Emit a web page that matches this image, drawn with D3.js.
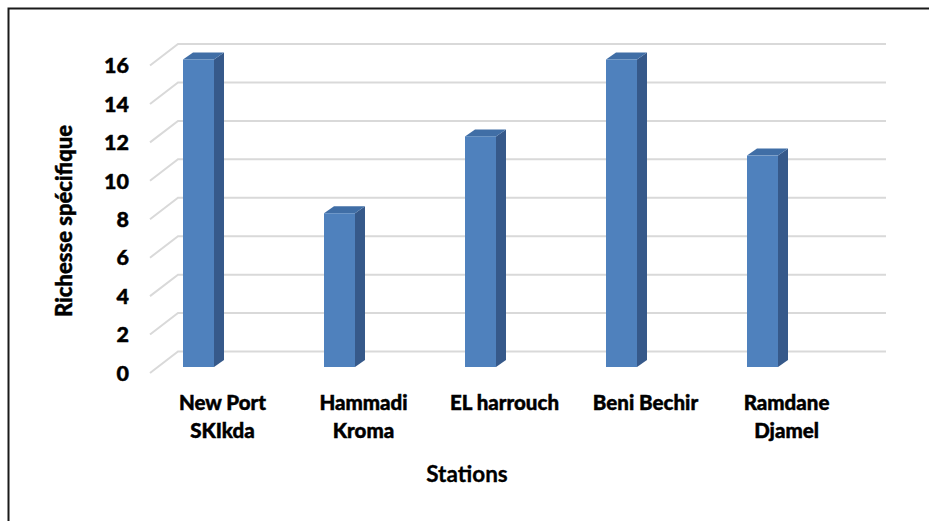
<!DOCTYPE html>
<html>
<head>
<meta charset="utf-8">
<script src="https://cdn.jsdelivr.net/npm/d3@7"></script>
<style>
  html, body { margin: 0; padding: 0; background: #fff; }
  svg { display: block; }
  text { font-family: Lato, "Open Sans", sans-serif; font-weight: 900; fill: #000; stroke: #000; stroke-width: 0.45px; }
</style>
</head>
<body>
<svg id="chart" width="929" height="521"></svg>
<script>
// ---- data ----
const categories = [["New Port", "SKIkda"], ["Hammadi", "Kroma"], ["EL harrouch"], ["Beni Bechir"], ["Ramdane", "Djamel"]];
const values = [16, 8, 12, 16, 11];
const yTicks = [0, 2, 4, 6, 8, 10, 12, 14, 16];
const yTitle = "Richesse spécifique";
const xTitle = "Stations";

// ---- layout ----
const svg = d3.select("#chart");

// outer frame
svg.append("rect").attr("x", 8.5).attr("y", 8.5).attr("width", 940).attr("height", 540)
  .attr("fill", "none").attr("stroke", "#1a1a1a").attr("stroke-width", 2);

const keys = categories.map(c => c.join(" "));
const x = d3.scaleBand().domain(keys).range([152, 857]);
// bar plane scale
const y = d3.scaleLinear().domain([0, 16]).range([367, 59.5]);

const frontDy = 6, backDy = -15.5;   // floor front/back relative to bar plane
const frontX = 150, backX = 178, backXEnd = 886;

// gridlines (3D wall style)
const grid = svg.append("g");
yTicks.forEach(t => {
  const yf = y(t) + frontDy, yb = y(t) + backDy;
  grid.append("path")
    .attr("d", `M${frontX},${yf}L${backX},${yb}L${backXEnd},${yb}`)
    .attr("fill", "none").attr("stroke", "#d9d9d9").attr("stroke-width", 2);
});

// y tick labels
svg.append("g").selectAll("text").data(yTicks).join("text")
  .attr("x", 129).attr("y", d => y(d) + frontDy)
  .attr("dy", "0.36em").attr("text-anchor", "end")
  .style("font-size", "21.5px").text(d => d);

// bars
const barOff = 31, barW = 31, depX = 10, depY = -7;
const bars = svg.append("g");
values.forEach((v, i) => {
  const x0 = x(keys[i]) + barOff, x1 = x0 + barW;
  const yt = y(v), yb = y(0);
  bars.append("path")
    .attr("d", `M${x1},${yt}L${x1 + depX},${yt + depY}L${x1 + depX},${yb + depY}L${x1},${yb}Z`)
    .attr("fill", "#36598a");
  bars.append("path")
    .attr("d", `M${x0},${yt}L${x0 + depX},${yt + depY}L${x1 + depX},${yt + depY}L${x1},${yt}Z`)
    .attr("fill", "#406ea6");
  bars.append("rect").attr("x", x0).attr("y", yt).attr("width", barW).attr("height", yb - yt)
    .attr("fill", "#4f81bd");
});

// category labels
const lab = svg.append("g");
categories.forEach((lines, i) => {
  const cx = x(keys[i]) + x.bandwidth() / 2;
  const t = lab.append("text").attr("text-anchor", "middle").style("font-size", "20.5px");
  lines.forEach((ln, j) => {
    t.append("tspan").attr("x", cx).attr("y", 410 + j * 28).text(ln);
  });
});

// axis titles
svg.append("text").attr("x", 467).attr("y", 482).attr("text-anchor", "middle")
  .style("font-size", "22.5px").style("font-weight", "700").style("stroke-width", "0.3px").text(xTitle);
svg.append("text").attr("transform", "translate(72,221) rotate(-90)")
  .attr("text-anchor", "middle").style("font-size", "22px").text(yTitle);
</script>
</body>
</html>
